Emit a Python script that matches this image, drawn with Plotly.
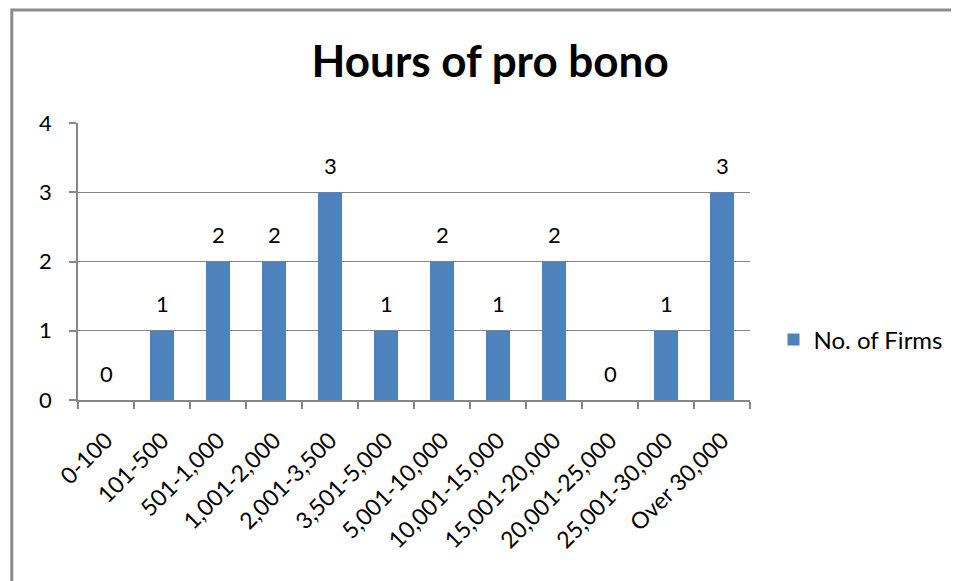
import plotly.graph_objects as go

categories = ["0-100", "101-500", "501-1,000", "1,001-2,000", "2,001-3,500", "3,501-5,000",
              "5,001-10,000", "10,001-15,000", "15,001-20,000", "20,001-25,000",
              "25,001-30,000", "Over 30,000"]
firms = [0, 1, 2, 2, 3, 1, 2, 1, 2, 0, 1, 3]
y_ticks = [0, 1, 2, 3, 4]
series_name = "No. of Firms"
title_text = "Hours of pro bono"

FONT = "Lato, Carlito, 'Open Sans', sans-serif"
BAR = "#4F81BD"
AX = "#868686"
FS = 22

fig = go.Figure()
fig.add_trace(go.Bar(x=categories, y=firms, name=series_name, marker_color=BAR,
                     marker_line_width=0, showlegend=True))

for c, v in zip(categories, firms):
    fig.add_annotation(x=c, y=v, text=str(v), showarrow=False, xref="x", yref="y",
                       yanchor="middle", yshift=27, font=dict(size=FS, color="#000", family=FONT))

fig.add_shape(type="rect", xref="paper", yref="paper", x0=-0.0985, x1=2, y0=-2, y1=1.408,
              line=dict(color="#8c8c8c", width=3), fillcolor="rgba(0,0,0,0)", layer="below")

fig.update_layout(
    width=951, height=573,
    margin=dict(l=70, r=209, t=115, b=181, autoexpand=False),
    paper_bgcolor="white", plot_bgcolor="white",
    bargap=0.57,
    font=dict(family=FONT, size=FS, color="#000"),
    title=dict(text="<b>" + title_text + "</b>", x=0.507, xanchor="center", y=1 - 54 / 573,
               yanchor="middle", font=dict(size=44, family=FONT, color="#000")),
    legend=dict(x=1.035, y=0.217, xanchor="left", yanchor="middle", bgcolor="rgba(0,0,0,0)",
                font=dict(size=24, family=FONT), itemwidth=30),
    xaxis=dict(showline=True, linecolor=AX, linewidth=1.5, ticks="outside", ticklen=7,
               tickcolor=AX, tickwidth=1.5, tickson="boundaries", tickangle=-45,
               showgrid=False, automargin=False, ticklabelstandoff=16,
               tickfont=dict(size=23, family=FONT)),
    yaxis=dict(range=[0, 4], tickvals=y_ticks, showline=True, linecolor=AX, linewidth=1.5,
               ticks="outside", ticklen=7, tickcolor=AX, tickwidth=1.5, showgrid=True,
               gridcolor=AX, gridwidth=1.2, zeroline=False, ticklabelstandoff=13,
               automargin=False, tickfont=dict(size=FS, family=FONT)),
)

fig.write_html("out.html")
